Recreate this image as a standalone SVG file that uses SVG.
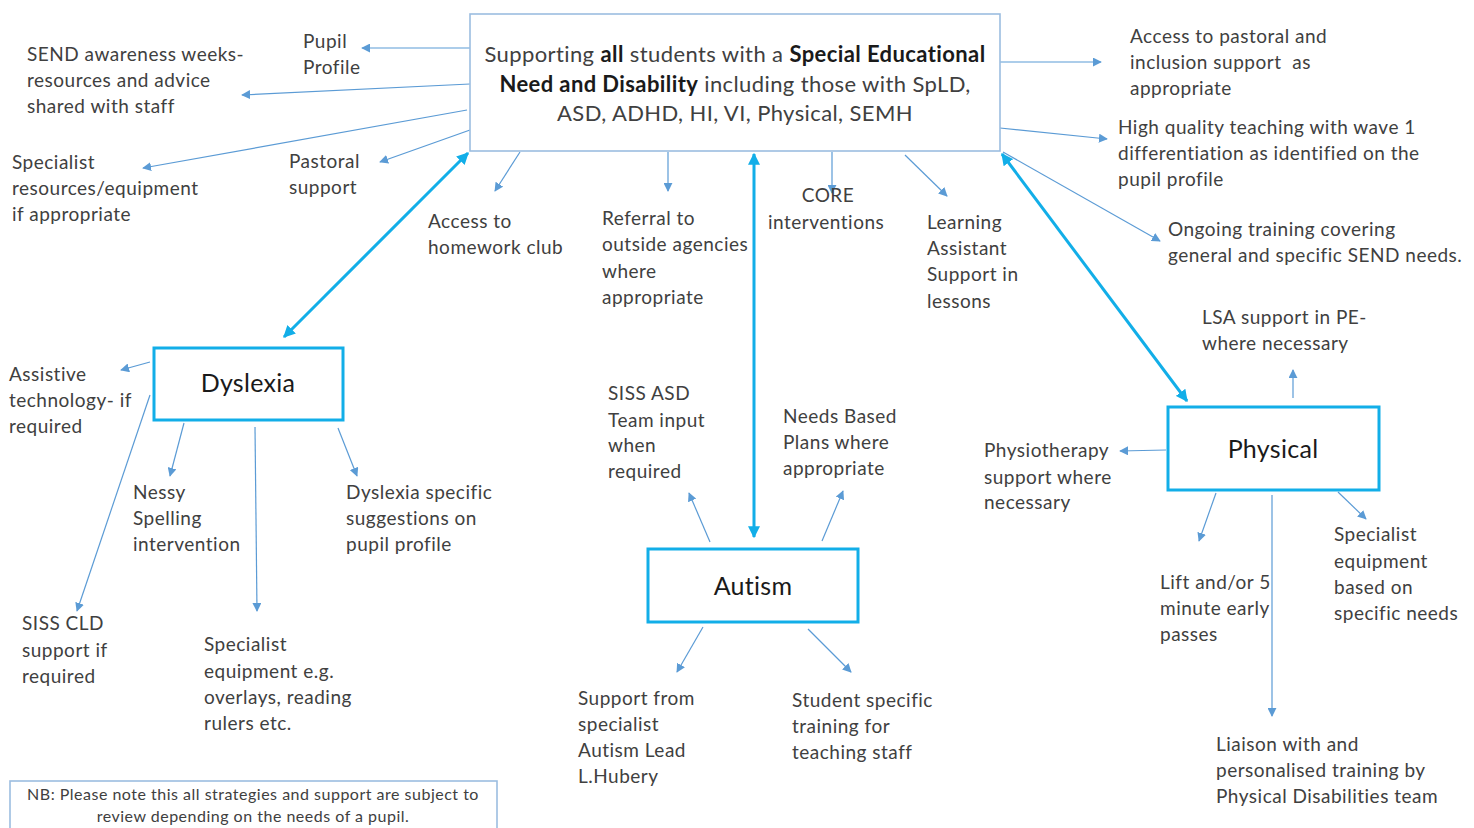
<svg xmlns="http://www.w3.org/2000/svg" width="1474" height="828" viewBox="0 0 1474 828">
<style>
text{font-family:Lato,"Open Sans","Liberation Sans",sans-serif;font-size:19px;letter-spacing:0.5px;fill:#404040}
.main{font-size:22px;letter-spacing:0.4px;fill:#404040;text-anchor:middle}
.b{font-weight:bold;fill:#1a1a1a}
.title{font-size:25px;letter-spacing:0.3px;fill:#1a1a1a;text-anchor:middle}
.nb{font-size:16px;letter-spacing:0.5px;fill:#404040;text-anchor:middle}
.thin{stroke:#5b9bd5;stroke-width:1.2;fill:none;marker-end:url(#ah)}
.thick{stroke:#12aee8;stroke-width:3;fill:none;marker-end:url(#ahc);marker-start:url(#ahcs)}
.box{fill:#fff;stroke:#12aee8;stroke-width:3}
.lbox{fill:#fff;stroke:#9cbde0;stroke-width:1.6}
</style>
<defs>
<marker id="ah" viewBox="0 0 10 10" refX="9" refY="5" markerWidth="9" markerHeight="9" markerUnits="userSpaceOnUse" orient="auto">
<path d="M0,0 L10,5 L0,10 z" fill="#5b9bd5"/>
</marker>
<marker id="ahc" viewBox="0 0 10 10" refX="9" refY="5" markerWidth="12" markerHeight="12" markerUnits="userSpaceOnUse" orient="auto">
<path d="M0,0 L10,5 L0,10 z" fill="#12aee8"/>
</marker>
<marker id="ahcs" viewBox="0 0 10 10" refX="1" refY="5" markerWidth="12" markerHeight="12" markerUnits="userSpaceOnUse" orient="auto">
<path d="M10,0 L0,5 L10,10 z" fill="#12aee8"/>
</marker>
</defs>
<rect width="1474" height="828" fill="#fff"/>

<g id="connectors">
<line class="thin" x1="470" y1="48" x2="362" y2="48"/>
<line class="thin" x1="470" y1="84" x2="242" y2="95"/>
<line class="thin" x1="467" y1="110" x2="143" y2="168"/>
<line class="thin" x1="470" y1="130" x2="380" y2="162"/>
<line class="thin" x1="520" y1="152" x2="495" y2="191"/>
<line class="thin" x1="668" y1="152" x2="668" y2="191"/>
<line class="thin" x1="832" y1="152" x2="832" y2="193"/>
<line class="thin" x1="905" y1="155" x2="947" y2="196"/>
<line class="thin" x1="1000" y1="62" x2="1101" y2="62"/>
<line class="thin" x1="1000" y1="128" x2="1107" y2="139"/>
<line class="thin" x1="1003" y1="152" x2="1160" y2="241"/>
<line class="thick" x1="468" y1="153" x2="284" y2="337"/>
<line class="thick" x1="754" y1="154" x2="754" y2="537"/>
<line class="thick" x1="1002" y1="154" x2="1187" y2="401"/>
<line class="thin" x1="150" y1="362" x2="121" y2="370"/>
<line class="thin" x1="150" y1="395" x2="77" y2="611"/>
<line class="thin" x1="184" y1="423" x2="170" y2="476"/>
<line class="thin" x1="255" y1="427" x2="257" y2="611"/>
<line class="thin" x1="338" y1="428" x2="357" y2="476"/>
<line class="thin" x1="710" y1="542" x2="689" y2="493"/>
<line class="thin" x1="822" y1="541" x2="843" y2="491"/>
<line class="thin" x1="703" y1="627" x2="677" y2="672"/>
<line class="thin" x1="808" y1="629" x2="851" y2="672"/>
<line class="thin" x1="1166" y1="450" x2="1120" y2="451"/>
<line class="thin" x1="1293" y1="398" x2="1293" y2="370"/>
<line class="thin" x1="1216" y1="493" x2="1199" y2="541"/>
<line class="thin" x1="1272" y1="495" x2="1272" y2="716"/>
<line class="thin" x1="1338" y1="492" x2="1366" y2="519"/>
</g>

<g id="main">
<rect class="lbox" x="470" y="14" width="530" height="137"/>
<text class="main" x="735" y="62">Supporting <tspan class="b">all</tspan> students with a <tspan class="b">Special Educational</tspan></text>
<text class="main" x="735" y="92"><tspan class="b">Need and Disability</tspan> including those with SpLD,</text>
<text class="main" x="735" y="121">ASD, ADHD, HI, VI, Physical, SEMH</text>
</g>

<g id="dyslexia">
<rect class="box" x="154" y="348" width="189" height="72"/>
<text class="title" x="248" y="392">Dyslexia</text>
</g>
<g id="autism">
<rect class="box" x="648" y="549" width="210" height="73"/>
<text class="title" x="753" y="595">Autism</text>
</g>
<g id="physical">
<rect class="box" x="1168" y="407" width="211" height="83"/>
<text class="title" x="1273" y="458">Physical</text>
</g>

<g id="pupil-profile"><text x="303" y="48">Pupil</text><text x="303" y="74">Profile</text></g>
<g id="send-awareness"><text x="27" y="61">SEND awareness weeks-</text><text x="27" y="87">resources and advice</text><text x="27" y="113">shared with staff</text></g>
<g id="specialist-resources"><text x="12" y="169">Specialist</text><text x="12" y="195">resources/equipment</text><text x="12" y="221">if appropriate</text></g>
<g id="pastoral"><text x="289" y="168">Pastoral</text><text x="289" y="194">support</text></g>
<g id="homework"><text x="428" y="228">Access to</text><text x="428" y="254">homework club</text></g>
<g id="referral"><text x="602" y="225">Referral to</text><text x="602" y="251">outside agencies</text><text x="602" y="278">where</text><text x="602" y="304">appropriate</text></g>
<g id="core"><text x="828" y="202" text-anchor="middle">CORE</text><text x="768" y="229">interventions</text></g>
<g id="learning-assistant"><text x="927" y="229">Learning</text><text x="927" y="255">Assistant</text><text x="927" y="281">Support in</text><text x="927" y="308">lessons</text></g>
<g id="access-pastoral"><text x="1130" y="43">Access to pastoral and</text><text x="1130" y="69">inclusion support&#160; as</text><text x="1130" y="95">appropriate</text></g>
<g id="high-quality"><text x="1118" y="134">High quality teaching with wave 1</text><text x="1118" y="160">differentiation as identified on the</text><text x="1118" y="186">pupil profile</text></g>
<g id="ongoing"><text x="1168" y="236">Ongoing training covering</text><text x="1168" y="262">general and specific SEND needs.</text></g>
<g id="lsa"><text x="1202" y="324">LSA support in PE-</text><text x="1202" y="350">where necessary</text></g>
<g id="assistive"><text x="9" y="381">Assistive</text><text x="9" y="407">technology- if</text><text x="9" y="433">required</text></g>
<g id="nessy"><text x="133" y="499">Nessy</text><text x="133" y="525">Spelling</text><text x="133" y="551">intervention</text></g>
<g id="dyslexia-specific"><text x="346" y="499">Dyslexia specific</text><text x="346" y="525">suggestions on</text><text x="346" y="551">pupil profile</text></g>
<g id="siss-cld"><text x="22" y="630">SISS CLD</text><text x="22" y="657">support if</text><text x="22" y="683">required</text></g>
<g id="specialist-equipment-dys"><text x="204" y="651">Specialist</text><text x="204" y="678">equipment e.g.</text><text x="204" y="704">overlays, reading</text><text x="204" y="730">rulers etc.</text></g>
<g id="siss-asd"><text x="608" y="400">SISS ASD</text><text x="608" y="427">Team input</text><text x="608" y="452">when</text><text x="608" y="478">required</text></g>
<g id="needs-based"><text x="783" y="423">Needs Based</text><text x="783" y="449">Plans where</text><text x="783" y="475">appropriate</text></g>
<g id="physio"><text x="984" y="457">Physiotherapy</text><text x="984" y="484">support where</text><text x="984" y="509">necessary</text></g>
<g id="lift"><text x="1160" y="589">Lift and/or 5</text><text x="1160" y="615">minute early</text><text x="1160" y="641">passes</text></g>
<g id="specialist-equipment-phys"><text x="1334" y="541">Specialist</text><text x="1334" y="568">equipment</text><text x="1334" y="594">based on</text><text x="1334" y="620">specific needs</text></g>
<g id="support-from"><text x="578" y="705">Support from</text><text x="578" y="731">specialist</text><text x="578" y="757">Autism Lead</text><text x="578" y="783">L.Hubery</text></g>
<g id="student-specific"><text x="792" y="707">Student specific</text><text x="792" y="733">training for</text><text x="792" y="759">teaching staff</text></g>
<g id="liaison"><text x="1216" y="751">Liaison with and</text><text x="1216" y="777">personalised training by</text><text x="1216" y="803">Physical Disabilities team</text></g>

<g id="note">
<rect class="lbox" x="10" y="781" width="487" height="60"/>
<text class="nb" x="253" y="800">NB: Please note this all strategies and support are subject to</text>
<text class="nb" x="253" y="822">review depending on the needs of a pupil.</text>
</g>
</svg>
